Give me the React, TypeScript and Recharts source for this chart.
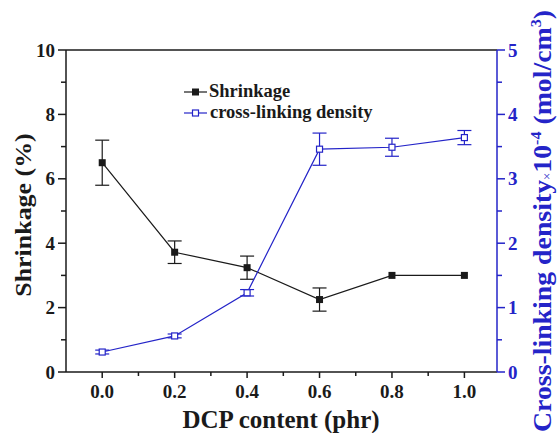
import React from 'react';
import { ComposedChart, Line, XAxis, YAxis, ErrorBar, ReferenceLine, Customized } from 'recharts';

const dcp = [0.0, 0.2, 0.4, 0.6, 0.8, 1.0];
const shrinkage = [6.5, 3.72, 3.24, 2.25, 3.0, 3.0];
const shrinkageErr = [0.7, 0.35, 0.36, 0.36, 0, 0];
const crossLink = [0.31, 0.56, 1.23, 3.46, 3.49, 3.64];
const crossLinkErr = [0.03, 0.03, 0.05, 0.25, 0.14, 0.11];

const xTicks = [0, 0.1, 0.2, 0.3, 0.4, 0.5, 0.6, 0.7, 0.8, 0.9, 1.0];
const leftTicks = [0, 1, 2, 3, 4, 5, 6, 7, 8, 9, 10];
const rightTicks = [0, 0.5, 1, 1.5, 2, 2.5, 3, 3.5, 4, 4.5, 5];

const data = dcp.map((x, i) => ({
  x,
  s: shrinkage[i],
  sErr: shrinkageErr[i],
  c: crossLink[i],
  cErr: crossLinkErr[i],
}));

const BLUE = '#2424c8';
const BLACK = '#1a1a1a';
const FONT = '"Liberation Serif", "Times New Roman", serif';

const isMult = (v: number, step: number) => Math.abs(v / step - Math.round(v / step)) < 1e-6;

const XTick = (props: any) => {
  const { x, y, payload } = props;
  const v = payload.value;
  const major = isMult(v, 0.2);
  return (
    <g>
      <line x1={x} x2={x} y1={y} y2={y + (major ? 6 : 4)} stroke={BLACK} strokeWidth={1.5} />
      {major && (
        <text x={x} y={y + 26} textAnchor="middle" fontFamily={FONT} fontWeight="bold" fontSize={19} fill={BLACK}>
          {v.toFixed(1)}
        </text>
      )}
    </g>
  );
};

const LeftTick = (props: any) => {
  const { x, y, payload } = props;
  const v = payload.value;
  const major = v % 2 === 0;
  return (
    <g>
      <line x1={x} x2={x - (major ? 8 : 5)} y1={y} y2={y} stroke={BLACK} strokeWidth={1.5} />
      {major && (
        <text x={x - 11} y={y + 6.5} textAnchor="end" fontFamily={FONT} fontWeight="bold" fontSize={19} fill={BLACK}>
          {v}
        </text>
      )}
    </g>
  );
};

const RightTick = (props: any) => {
  const { x, y, payload } = props;
  const v = payload.value;
  const major = isMult(v, 1);
  return (
    <g>
      <line x1={x} x2={x + (major ? 8 : 5)} y1={y} y2={y} stroke={BLUE} strokeWidth={1.5} />
      {major && (
        <text x={x + 11} y={y + 6.5} textAnchor="start" fontFamily={FONT} fontWeight="bold" fontSize={19} fill={BLUE}>
          {v}
        </text>
      )}
    </g>
  );
};

const FilledSquare = (props: any) => {
  const { cx, cy } = props;
  if (cx == null || cy == null) return null;
  return <rect x={cx - 3.5} y={cy - 3.5} width={7} height={7} fill={BLACK} />;
};

const OpenSquare = (props: any) => {
  const { cx, cy } = props;
  if (cx == null || cy == null) return null;
  return <rect x={cx - 3} y={cy - 3} width={6} height={6} fill="#fff" stroke={BLUE} strokeWidth={1.2} />;
};

const Decorations = () => (
  <g>
    {/* legend */}
    <line x1={184} x2={207} y1={92} y2={92} stroke={BLACK} strokeWidth={1.2} />
    <rect x={192} y={88.5} width={7} height={7} fill={BLACK} />
    <text x={209} y={97} fontFamily={FONT} fontWeight="bold" fontSize={18.5} fill={BLACK}>Shrinkage</text>
    <line x1={184} x2={207} y1={113} y2={113} stroke={BLUE} strokeWidth={1.2} />
    <rect x={192.5} y={110} width={6} height={6} fill="#fff" stroke={BLUE} strokeWidth={1.2} />
    <text x={210} y={118} fontFamily={FONT} fontWeight="bold" fontSize={18.5} fill={BLACK}>cross-linking density</text>
    {/* axis titles */}
    <text x={281} y={428} textAnchor="middle" fontFamily={FONT} fontWeight="bold" fontSize={25} fill={BLACK}>DCP content (phr)</text>
    <text transform="translate(31,215) scale(1,1.08) rotate(-90)" textAnchor="middle" fontFamily={FONT} fontWeight="bold" fontSize={24} fill={BLACK}>Shrinkage (%)</text>
    <text transform="translate(551,432) scale(1,1.07) rotate(-90)" textAnchor="start" fontFamily={FONT} fontWeight="bold" fontSize={26} fill={BLUE}>
      <tspan>Cross-linking density</tspan>
      <tspan fontSize={12} fontWeight="normal">×</tspan>
      <tspan>10</tspan>
      <tspan fontSize={15} dy={-10}>-4</tspan>
      <tspan dy={10}> (mol/cm</tspan>
      <tspan fontSize={15} dy={-10}>3</tspan>
      <tspan dy={10}>)</tspan>
    </text>
  </g>
);

export default function App() {
  return (
    <div style={{ position: 'absolute', left: 0, top: 0, width: 557, height: 433, background: '#fff' }}>
      <ComposedChart width={557} height={433} data={data} margin={{ top: 50, right: 0, bottom: 0, left: 0 }}>
        <XAxis
          type="number"
          dataKey="x"
          domain={[-0.1, 1.09]}
          ticks={xTicks}
          interval={0}
          tick={<XTick />}
          tickLine={false}
          tickSize={0}
          tickMargin={0}
          height={61}
          axisLine={{ stroke: BLACK, strokeWidth: 1.5 }}
          allowDataOverflow
        />
        <YAxis
          yAxisId="left"
          type="number"
          domain={[0, 10]}
          ticks={leftTicks}
          interval={0}
          tick={<LeftTick />}
          tickLine={false}
          tickSize={0}
          tickMargin={0}
          width={66}
          axisLine={{ stroke: BLACK, strokeWidth: 1.5 }}
        />
        <YAxis
          yAxisId="right"
          orientation="right"
          type="number"
          domain={[0, 5]}
          ticks={rightTicks}
          interval={0}
          tick={<RightTick />}
          tickLine={false}
          tickSize={0}
          tickMargin={0}
          width={60}
          axisLine={{ stroke: BLUE, strokeWidth: 1.5 }}
        />
        <ReferenceLine yAxisId="left" y={10} stroke={BLACK} strokeWidth={1.5} />
        <Line
          yAxisId="left"
          dataKey="s"
          stroke={BLACK}
          strokeWidth={1.2}
          dot={<FilledSquare />}
          isAnimationActive={false}
        >
          <ErrorBar dataKey="sErr" width={7} stroke={BLACK} strokeWidth={1.2} direction="y" />
        </Line>
        <Line
          yAxisId="right"
          dataKey="c"
          stroke={BLUE}
          strokeWidth={1.2}
          dot={<OpenSquare />}
          isAnimationActive={false}
        >
          <ErrorBar dataKey="cErr" width={7} stroke={BLUE} strokeWidth={1.2} direction="y" />
        </Line>
        <Customized component={<Decorations />} />
      </ComposedChart>
    </div>
  );
}
